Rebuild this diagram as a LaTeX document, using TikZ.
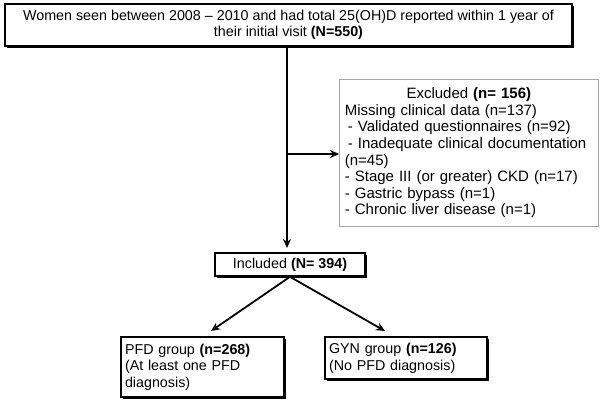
\documentclass[tikz,border=0pt]{standalone}
\usepackage{fontspec}
\setmainfont{Liberation Sans}
\usetikzlibrary{shadows,arrows.meta}
\begin{document}
\begin{tikzpicture}[x=1pt,y=-1pt,
  mainbox/.style={draw=black, line width=1.6pt, fill=white, inner sep=3pt,
    drop shadow={shadow xshift=2pt, shadow yshift=-2pt, fill=black, opacity=1}},
  exbox/.style={draw=gray!70, line width=0.7pt, fill=white, inner xsep=5.5pt, inner ysep=4pt,
    font=\fontsize{15}{16.6}\selectfont},
  conn/.style={line width=1.8pt, -{Stealth[length=9pt,width=8pt]}},
  font=\fontsize{14.3}{16.6}\selectfont]
\useasboundingbox (0,0) rectangle (602,402);
\node[mainbox, minimum width=567, minimum height=42, align=center] (top) at (288.5,25)
  {Women seen between 2008 -- 2010 and had total 25(OH)D reported within 1 year of\\
   their initial visit \textbf{(N=550)}};
\node[exbox, minimum width=259, minimum height=147, text width=248, align=left, anchor=north west] (ex) at (339,79)
  {\centering Excluded \textbf{(n= 156)}\par
   \raggedright Missing clinical data (n=137)\\
   \hspace{3pt}- Validated questionnaires (n=92)\\
   \hspace{3pt}- Inadequate clinical documentation\\
   (n=45)\\
   - Stage III (or greater) CKD (n=17)\\
   - Gastric bypass (n=1)\\
   - Chronic liver disease (n=1)};
\node[mainbox, minimum width=150, minimum height=23] (inc) at (290,264.5)
  {Included \textbf{(N= 394)}};
\node[mainbox, minimum width=163, minimum height=60, text width=155, align=left] (pfd) at (202.5,367)
  {PFD group \textbf{(n=268)}\\(At least one PFD\\diagnosis)};
\node[mainbox, minimum width=162, minimum height=42, text width=154, align=left] (gyn) at (406,358)
  {GYN group \textbf{(n=126)}\\(No PFD diagnosis)};
\coordinate (a) at (287,47);
\coordinate (e) at (287,248);
\coordinate (b) at (287,154);
\draw[conn] (a) -- (e);
\draw[conn] (b) -- (ex.west |- b);
\draw[conn] (inc.south) -- (211,331);
\draw[conn] (inc.south) -- (385,331);
\end{tikzpicture}
\end{document}
